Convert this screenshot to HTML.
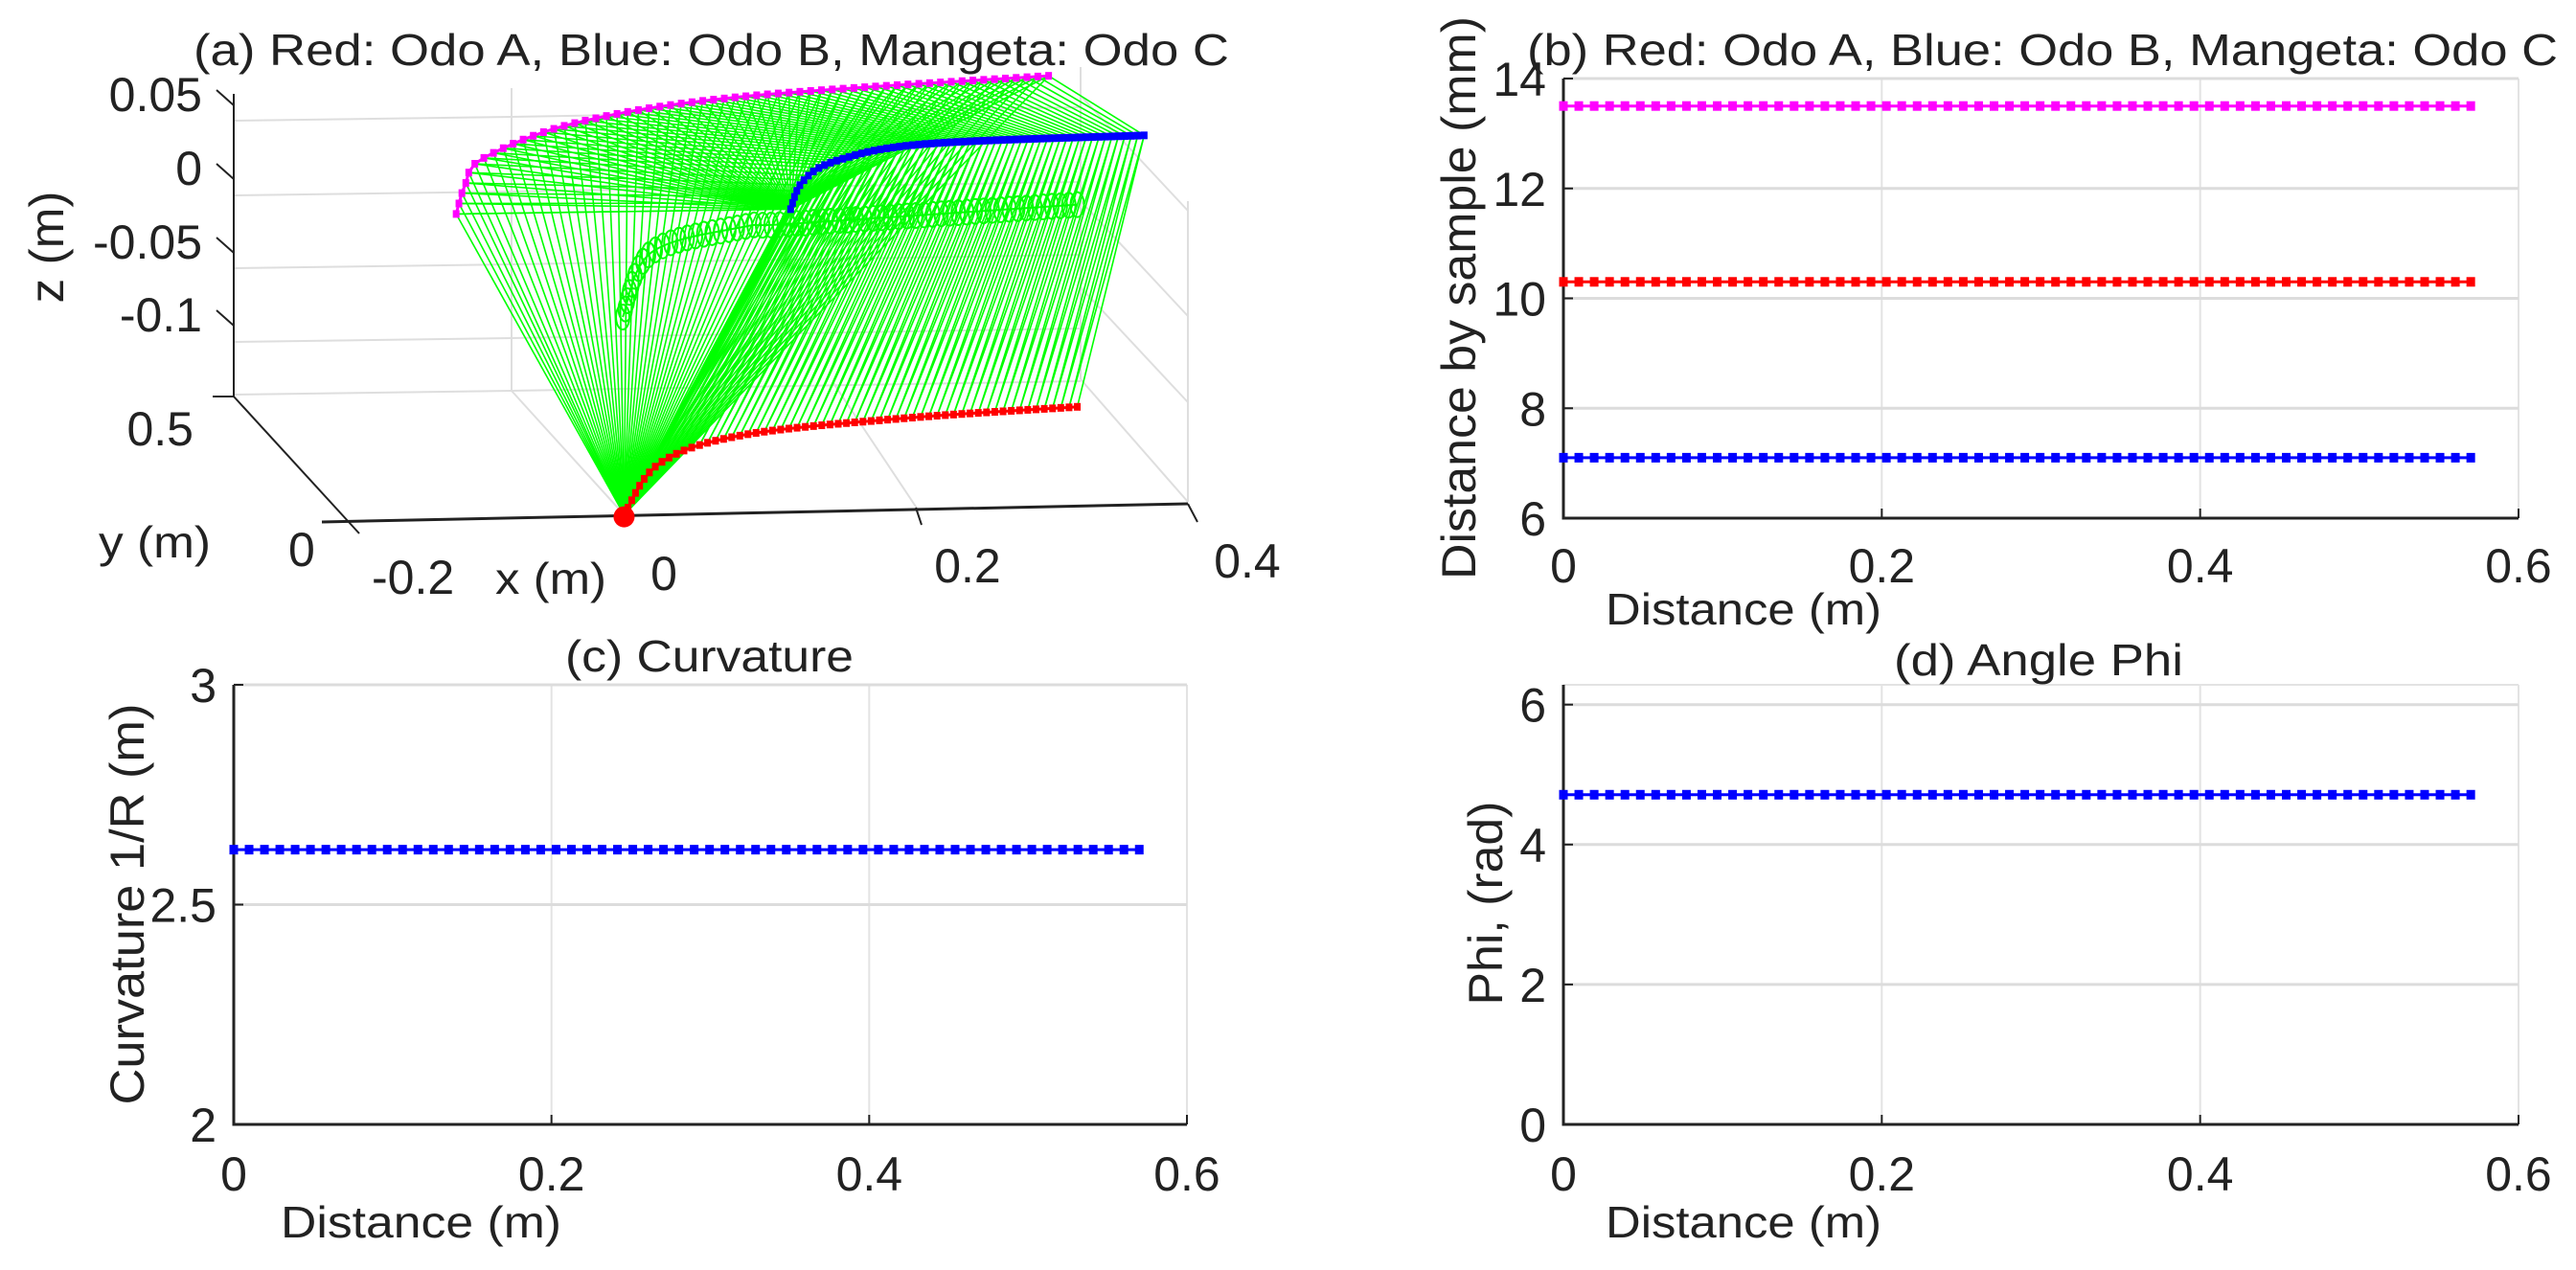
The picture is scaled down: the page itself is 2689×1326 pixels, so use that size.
<!DOCTYPE html>
<html><head><meta charset="utf-8">
<style>
html,body{margin:0;padding:0;background:#fff;}
svg{display:block;font-family:"Liberation Sans",Arial,sans-serif;}
</style></head>
<body>
<svg id="fig" width="2689" height="1326" viewBox="0 0 2689 1326" xmlns="http://www.w3.org/2000/svg">
<rect width="2689" height="1326" fill="#fff"/>
<g id="pa"></g>
<g id="pb"></g>
<g id="pc"></g>
<g id="pd"></g>
</svg>
<script>
// ---------- data ----------
const sampleCount = 60;
const maxDistance = 0.57;
const odoA_mm = 10.3;
const odoB_mm = 7.1;
const odoC_mm = 13.5;
const curvatureValue = 2.625;
const phiValue = 4.712;
const xTicks = [0, 0.2, 0.4, 0.6];
const xTickLabels = ["0", "0.2", "0.4", "0.6"];
const bTicks = [6, 8, 10, 12, 14];
const cTicks = [2, 2.5, 3];
const cTickLabels = ["2", "2.5", "3"];
const dTicks = [0, 2, 4, 6];
// 3D curves (x, z in metres; y approx 0) control points
const magentaX = [-0.129, -0.122, -0.109, -0.040, 0.081, 0.305];
const magentaZ = [-0.029, -0.008, 0.009, 0.033, 0.050, 0.063];
const blueX = [0.116, 0.125, 0.150, 0.215, 0.375];
const blueZ = [-0.027, -0.008, 0.006, 0.017, 0.022];
const redX = [-0.006, 0.020, 0.081, 0.201, 0.326];
const redZ = [-0.235, -0.200, -0.181, -0.170, -0.163];
const greenX = [-0.007, 0.014, 0.081, 0.117, 0.326];
const greenZ = [-0.100, -0.056, -0.039, -0.037, -0.025];

const NS = "http://www.w3.org/2000/svg";
function mk(parent, tag, attrs){const e=document.createElementNS(NS,tag);for(const k in attrs)e.setAttribute(k,attrs[k]);parent.appendChild(e);return e;}
function txt(parent, s, attrs){const e=mk(parent,'text',attrs);e.textContent=s;return e;}

const distances = [];
for(let i=0;i<sampleCount;i++) distances.push(maxDistance*i/(sampleCount-1));

// ---------- 2D panel builder ----------
function panel(g, box, ymin, ymax, yt, ytl, title, titleBox, ylab, ylabBox, xlabBox, tickBase, series){
  const sx=v=>box.l+(v-0)/(0.6)*(box.r-box.l);
  const sy=v=>box.b-(v-ymin)/(ymax-ymin)*(box.b-box.t);
  xTicks.forEach(v=>{ if(v>0){const l=mk(g,'line',{x1:sx(v),x2:sx(v),y1:box.t,y2:box.b,stroke:'#e3e3e3','stroke-width':2});
    
    }});
  yt.forEach(v=>{ if(v>ymin){const l=mk(g,'line',{x1:box.l,x2:box.r,y1:sy(v),y2:sy(v),stroke:'#dcdcdc','stroke-width':3});
    
    }});
  if(ymax>yt[yt.length-1]){const l=mk(g,'line',{x1:box.l,x2:box.r,y1:box.t,y2:box.t,stroke:'#e3e3e3','stroke-width':2});}
  const ax=mk(g,'path',{d:`M${box.l},${box.t} V${box.b} H${box.r}`,fill:'none',stroke:'#222','stroke-width':3});
  
  
  xTicks.forEach((v,i)=>{
    mk(g,'line',{x1:sx(v),x2:sx(v),y1:box.b,y2:box.b-10,stroke:'#222','stroke-width':2});
    const t=txt(g,xTickLabels[i],{x:sx(v),y:tickBase,'font-size':50,'text-anchor':'middle',fill:'#222'});
    
    
  });
  yt.forEach((v,i)=>{
    mk(g,'line',{x1:box.l,x2:box.l+10,y1:sy(v),y2:sy(v),stroke:'#222','stroke-width':2});
    const t=txt(g,ytl[i],{x:box.l-18,y:sy(v)+18,'font-size':50,'text-anchor':'end',fill:'#222'});
    
    
  });
  series.forEach(s=>{
    const pts=distances.map(d=>[sx(d),sy(s.v)]);
    const pl=mk(g,'polyline',{points:pts.map(p=>p.join(',')).join(' '),fill:'none',stroke:s.c,'stroke-width':3});
    
    
    pts.forEach(p=>{const r=mk(g,'rect',{x:p[0]-4.5,y:p[1]-5,width:9,height:10,fill:s.c});
      
      });
  });
  const tt=txt(g,title,{x:titleBox[0],y:titleBox[1],'font-size':46,textLength:titleBox[2],lengthAdjust:'spacingAndGlyphs',fill:'#222'});
  
  
  const yl=txt(g,ylab,{x:0,y:0,'font-size':50,'text-anchor':'middle',textLength:ylabBox[2],lengthAdjust:'spacingAndGlyphs',fill:'#222',transform:`translate(${ylabBox[0]},${ylabBox[1]}) rotate(-90)`});
  
  
  const xl=txt(g,'Distance (m)',{x:xlabBox[0],y:xlabBox[1],'font-size':46,textLength:xlabBox[2],lengthAdjust:'spacingAndGlyphs',fill:'#222'});
  
  
}

panel(document.getElementById('pb'),{l:1632,r:2629,t:82,b:541},6,14,bTicks,bTicks.map(String),
  '(b) Red: Odo A, Blue: Odo B, Mangeta: Odo C',[1594,68,1076],'Distance by sample (mm)',[1540,311,588],[1676,652,288],608,
  [{v:odoC_mm,c:'#ff00ff',n:'odo-c'},{v:odoA_mm,c:'#ff0000',n:'odo-a'},{v:odoB_mm,c:'#0000ff',n:'odo-b'}]);
panel(document.getElementById('pc'),{l:244,r:1239,t:715,b:1174},2,3,cTicks,cTickLabels,
  '(c) Curvature',[590,701,301],'Curvature 1/R (m)',[150,944,419],[293,1292,293],1243,
  [{v:curvatureValue,c:'#0000ff',n:'curvature'}]);
panel(document.getElementById('pd'),{l:1632,r:2629,t:715,b:1174},0,6.2832,dTicks,dTicks.map(String),
  '(d) Angle Phi',[1977,705,302],'Phi, (rad)',[1568,943,213],[1676,1292,288],1243,
  [{v:phiValue,c:'#0000ff',n:'phi'}]);

// ---------- 3D panel ----------
const ga=document.getElementById('pa');
const P=(x,z)=>[660+1425*x, 178-1530*z-8*x];
function ln(x1,y1,x2,y2,c,w,name){const l=mk(ga,'line',{x1,y1,x2,y2,stroke:c,'stroke-width':w});
  
  }
[126,204,280,357,412].forEach((y,i)=>{ln(244,y,534,y-4,'#dedede',2,'z-grid-left');ln(534,y-4,1128,y-14,'#dedede',2,'z-grid-back');});
ln(534,92,534,408,'#dedede',2,'back-vertical-grid');
ln(1128,70,1128,396,'#dedede',2,'back-right-grid');
ln(1240,210,1240,524,'#dedede',2,'right-vertical-grid');
ln(1128,396,1240,524,'#dedede',2,'floor-edge-grid');
ln(1128,210,1240,330,'#dedede',2,'side-grid');
ln(1128,300,1240,420,'#dedede',2,'side-grid');
ln(1128,100,1240,220,'#dedede',2,'side-grid');
ln(534,408,652,538,'#dedede',2,'floor-grid');
ln(870,400,958,532,'#dedede',2,'floor-grid');
ln(244,98,244,414,'#222',2,'z-axis-line');
ln(244,414,375,557,'#222',2,'y-axis-line');
ln(336,545,1240,526,'#222',3,'x-axis-line');
ln(1240,526,1250,545,'#222',2,'x-tick');
ln(956,530,962,548,'#222',2,'x-tick');
[116,193,270,346].forEach(y=>ln(226,y-22,244,y-6,'#222',2,'z-tick'));
ln(222,414,244,414,'#222',2,'z-tick');
function curvePath(xs,zs){
  const p=xs.map((x,i)=>P(x,zs[i]));
  let d=`M${p[0][0]},${p[0][1]}`;
  for(let i=0;i<p.length-1;i++){
    const p0=p[Math.max(0,i-1)],p1=p[i],p2=p[i+1],p3=p[Math.min(p.length-1,i+2)];
    const c1=[p1[0]+(p2[0]-p0[0])/6,p1[1]+(p2[1]-p0[1])/6],c2=[p2[0]-(p3[0]-p1[0])/6,p2[1]-(p3[1]-p1[1])/6];
    d+=` C${c1[0]},${c1[1]} ${c2[0]},${c2[1]} ${p2[0]},${p2[1]}`;
  }
  return d;
}
function samplePath(d,n){
  const tmp=mk(ga,'path',{d,fill:'none',stroke:'none'});
  const L=tmp.getTotalLength();const out=[];
  for(let i=0;i<n;i++){const q=tmp.getPointAtLength(L*i/(n-1));out.push([q.x,q.y]);}
  ga.removeChild(tmp);return out;
}
const N3=60;
const mag=samplePath(curvePath(magentaX,magentaZ),N3);
const blu=samplePath(curvePath(blueX,blueZ),N3);
const red=samplePath(curvePath(redX,redZ),N3);
const grn=samplePath(curvePath(greenX,greenZ),N3);
const mesh=mk(ga,'g',{stroke:'#00ff00','stroke-width':1.6});


for(let i=0;i<N3;i++){
  mk(mesh,'line',{x1:mag[i][0],y1:mag[i][1],x2:red[0][0],y2:red[0][1]});
  mk(mesh,'line',{x1:mag[i][0],y1:mag[i][1],x2:blu[0][0],y2:blu[0][1]});
  mk(mesh,'line',{x1:mag[i][0],y1:mag[i][1],x2:blu[i][0],y2:blu[i][1]});
  mk(mesh,'line',{x1:blu[i][0],y1:blu[i][1],x2:red[i][0],y2:red[i][1]});
  if(i<N3-1) mk(mesh,'line',{x1:blu[i+1][0],y1:blu[i+1][1],x2:red[i][0],y2:red[i][1]});
}
mk(mesh,'line',{x1:red[0][0],y1:red[0][1],x2:blu[0][0],y2:blu[0][1],'stroke-width':5});
const gc=mk(ga,'g',{fill:'none',stroke:'#00ff00','stroke-width':2});


grn.forEach(p=>mk(gc,'ellipse',{cx:p[0],cy:p[1],rx:7,ry:13}));
mk(gc,'path',{d:curvePath(greenX,greenZ),'stroke-width':2});
[[mag,'#ff00ff','odo-c-curve'],[blu,'#0000ff','odo-b-curve'],[red,'#ff0000','odo-a-curve']].forEach(([pts,c,n])=>{
  const g=mk(ga,'g',{});
  
  
  mk(g,'polyline',{points:pts.map(p=>p.join(',')).join(' '),fill:'none',stroke:c,'stroke-width':3});
  pts.forEach(p=>mk(g,'rect',{x:p[0]-3.5,y:p[1]-4,width:7,height:8,fill:c}));
});
const org=mk(ga,'circle',{cx:red[0][0],cy:red[0][1]+2,r:11,fill:'#ff0000'});


function lab(s,x,y,anchor,name,extra){const t=txt(ga,s,Object.assign({x,y,'font-size':50,'text-anchor':anchor,fill:'#222'},extra||{}));
  
  }
lab('(a) Red: Odo A, Blue: Odo B, Mangeta: Odo C',202,68,'start','panel-title',{'font-size':46,textLength:1081,lengthAdjust:'spacingAndGlyphs'});
lab('0.05',211,116,'end','z-tick-label');
lab('0',211,193,'end','z-tick-label');
lab('-0.05',211,270,'end','z-tick-label');
lab('-0.1',211,346,'end','z-tick-label');
lab('0.5',202,465,'end','y-tick-label');
lab('0',301,591,'start','y-tick-label');
lab('y (m)',103,582,'start','y-axis-title',{'font-size':46,textLength:117,lengthAdjust:'spacingAndGlyphs'});
lab('-0.2',388,620,'start','x-tick-label');
lab('x (m)',517,620,'start','x-axis-title',{'font-size':46,textLength:116,lengthAdjust:'spacingAndGlyphs'});
lab('0',693,616,'middle','x-tick-label');
lab('0.2',1010,608,'middle','x-tick-label');
lab('0.4',1302,603,'middle','x-tick-label');
lab('z (m)',0,0,'middle','z-axis-title',{transform:'translate(66,258) rotate(-90)',textLength:117,lengthAdjust:'spacingAndGlyphs'});
</script>
</body></html>
